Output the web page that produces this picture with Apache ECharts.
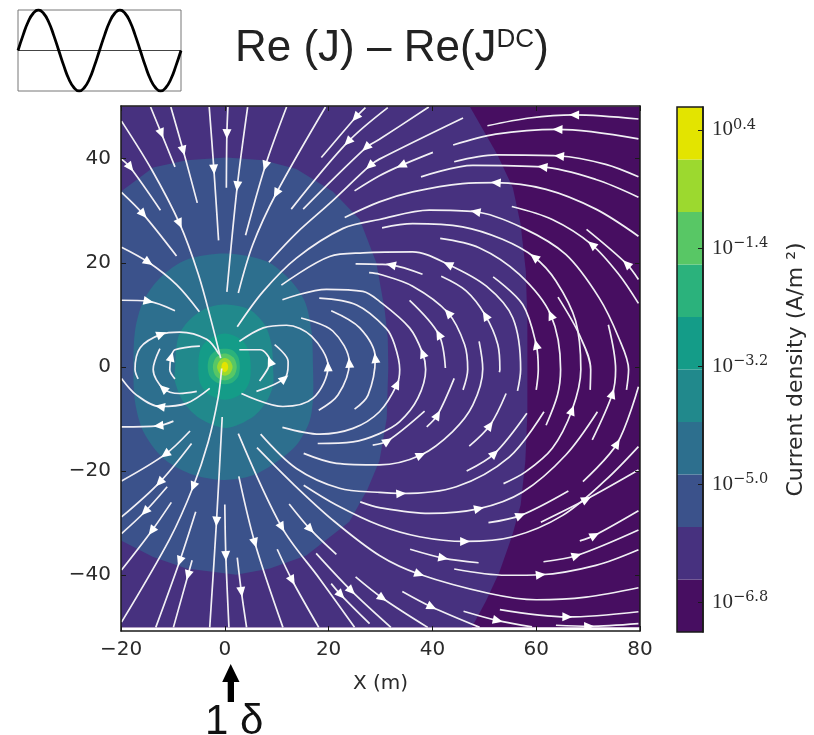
<!DOCTYPE html>
<html><head><meta charset="utf-8">
<style>html,body{margin:0;padding:0;background:#fff}#c{width:814px;height:735px}</style>
<script src="https://cdn.jsdelivr.net/npm/echarts@6/dist/echarts.min.js"></script>
</head><body><div id="c"></div>
<script>
// Colour bands (log10 current density edges, colours)
const bandEdges=[-7.25,-6.45,-5.65,-4.85,-4.05,-3.25,-2.45,-1.65,-0.85,-0.05,0.75];
const bandColors=['#470e61','#47317f','#3b528b','#2d6f8e','#21898c','#149c88','#2bb27c','#58c765','#9cd92f','#e3e400'];
const cbarTicks=[-6.8,-5.0,-3.2,-1.4,0.4];
const xTicks=[-20,0,20,40,60,80];
const yTicks=[-40,-20,0,20,40];

// Contour outlines, one for each band (x m, y m)
const level0=[[-20,-50],[80,-50],[80,50],[-20,50]];
const level1=[[-20,-50],[47.6,-50],[50.3,-45],[52.9,-39.4],[55.4,-32.3],[57,-26.5],[57.9,-18.2],[58.3,-9],[58.3,0],[58.3,8.8],[58,18.4],[57,27.4],[55.5,34.4],[52.5,40.8],[47.2,50],[-20,50]];
const level2=[[-20,33.7],[-13.8,38.3],[-7.4,39.7],[0.3,40.2],[7.4,39.7],[13.8,38],[20.8,33.7],[26,28.3],[29.2,20],[30.8,11],[31.4,5.6],[31.5,0],[31.2,-9.9],[29.8,-18],[27.5,-23.5],[24,-29.7],[15.7,-36.2],[8.7,-38.7],[2.2,-39.9],[-7.4,-38.7],[-13.8,-36.5],[-20,-33.3]];
const level3=[[-17.6,-0.5],[-17.3,6.9],[-15.7,12.6],[-12.5,17.1],[-7.4,20.6],[0.3,21.8],[8,20.3],[12.5,16.8],[15.4,12.6],[16.7,6.9],[17,-0.2],[17,-6],[16.3,-10.5],[13.8,-15],[10,-18.2],[5.4,-20.8],[-0.3,-21.7],[-6.7,-20.5],[-11.8,-17.6],[-15.7,-12.4],[-17.3,-6.7]];
const level4=[[-9.6,-0.5],[-9,5.6],[-7,8.8],[-3.5,11.3],[0.3,12],[4.8,11],[7.7,8.1],[9,4.3],[9.3,-0.2],[9.3,-3.5],[8,-6.7],[5.4,-9.6],[0.3,-11.7],[-4.8,-9.9],[-8,-6.7],[-9.6,-2.8]];
const level5=[[-5.1,0],[-4.8,3],[-3.5,5],[0,6.4],[3.2,5.2],[4.6,3],[5,0],[4.7,-3],[3.2,-5.2],[0,-6.3],[-3.2,-5.2],[-4.8,-3]];
const level6=[[-3.3,0],[-2.9,2],[-1.6,3.2],[0,3.5],[1.5,3.2],[2.6,1.9],[2.9,0],[2.6,-1.8],[1.5,-3],[0,-3.3],[-1.6,-3],[-2.9,-1.8]];
const level7=[[-2.3,0],[-1.7,1.8],[0,2.6],[1.7,1.8],[2.3,0],[1.7,-1.8],[0,-2.6],[-1.7,-1.8]];
const level8=[[-1.5,0],[-1,1.2],[0,1.7],[1,1.2],[1.5,0],[1,-1.2],[0,-1.7],[-1,-1.2]];
const level9=[[-0.65,0],[-0.45,0.7],[0,1],[0.45,0.7],[0.65,0],[0.45,-0.7],[0,-1],[-0.45,-0.7]];
const contours=[level0,level1,level2,level3,level4,level5,level6,level7,level8,level9];

// Streamlines: p = points (x m, y m), a = indices carrying an arrow, f = flow along (1) or against (-1) point order
const streamsTopLeft=[
{p:[[-14.3,49.9],[-12.2,44.8],[-9.6,38.4]],a:[1],f:1},
{p:[[-10.4,49.9],[-8,41.5],[-5.3,31.5]],a:[1],f:1},
{p:[[-19.9,47.2],[-14.1,37.9],[-8.7,27.5],[-5.1,17.8],[-2.6,8.8],[-0.8,1.7]],a:[2],f:1},
{p:[[-19.9,39.9],[-18.2,38.3],[-12.4,30.1]],a:[1],f:1},
{p:[[-19.9,33.5],[-15.7,29.3],[-9.3,21.3]],a:[1],f:1},
{p:[[-19.9,23],[-14.7,20.1],[-9.3,15.8],[-4.9,10.6]],a:[1],f:1},
{p:[[-19.9,12.8],[-14.7,12.6],[-9.6,10.8]],a:[1],f:1},
{p:[[-3,49.9],[-2.1,37.9],[-1.2,24.3]],a:[1],f:1},
{p:[[0.6,49.9],[0.4,44.7],[0.3,34.4]],a:[1],f:1},
{p:[[4.4,49.9],[2.4,34.7],[0.4,14.4]],a:[1],f:1},
{p:[[11.9,49.9],[7.8,38.6],[4,25.3]],a:[1],f:1},
{p:[[19.4,49.9],[9.9,33.3],[5.4,23.5],[2.6,14.2]],a:[1],f:1},
{p:[[27.1,49.8],[25.2,47.9],[18.6,40.2]],a:[1],f:1},
{p:[[31.4,49.8],[23.7,43.2],[12.8,30.3]],a:[1],f:1},
{p:[[39.3,49.9],[29.8,43.7],[27.2,42.1],[15.1,30.3]],a:[2],f:1},
{p:[[45.9,47.8],[29.8,39.9],[27.9,38.6],[20.2,31.4],[13.8,25.7],[8.5,20.1]],a:[2],f:1},
{p:[[40.1,41.2],[34,38.7],[29.8,36.7],[25,33.8]],a:[1],f:1}
];
const streamsTopRight=[
{p:[[23.1,28.7],[29.8,31.7],[36.2,33.6],[45.8,35.2],[52.2,35.4],[61.9,34.1],[71.5,30.3],[79.7,25.1]],a:[4],f:-1},
{p:[[2.4,7.7],[7.4,14.5],[13.8,20.9],[22.8,26.6],[29.8,28.3],[39.4,30.1],[48.3,29.8],[57.4,26.7],[65.7,21.6],[72.1,13.3],[75.9,5.6],[77.8,-0.5],[77.4,-4.4]],a:[6],f:-1},
{p:[[30.3,26.7],[36.2,27.5],[45.8,26.9],[53.5,24.5],[59.6,21.1],[63.8,16.5],[67.6,8.8],[68.6,-0.5],[66.9,-8.3],[63.1,-15.6],[58,-20.1],[53.7,-22.4]],a:[4,8],f:-1},
{p:[[10.9,15.7],[20.2,21.2],[26.7,21.9],[36.2,22.1],[43,19.7],[50.4,15.5],[55.5,9.4],[57,-0.5],[56.4,-4.6]],a:[4],f:-1},
{p:[[25.2,19.8],[29.8,19.7],[32,19.6],[38.1,17.8]],a:[2],f:-1},
{p:[[27.8,18.1],[29.8,17.8],[36.2,15.5],[43,10.4],[46.2,4.3],[46.8,-0.5],[45.9,-4.4]],a:[3],f:-1},
{p:[[41.7,17.4],[46.5,14.6],[50.2,9.9],[52.6,4.3],[53,-0.5],[52.9,-1]],a:[2],f:-1},
{p:[[51.7,17.3],[57.4,12],[60,4.3],[60.4,-0.5],[60,-4.4]],a:[2],f:-1},
{p:[[41.5,24.7],[49,22.9],[56.7,17.8],[62.8,10],[64.7,-0.5],[64.1,-5.4],[61.9,-11.2]],a:[3],f:-1},
{p:[[50.6,46.3],[58.7,47.8],[67.3,48.4],[79.7,47.6]],a:[2],f:-1},
{p:[[44,42.6],[52.2,44.7],[64.1,45.6],[79.7,43.8]],a:[2],f:-1},
{p:[[44.2,39.4],[52.2,40.7],[64.4,40.5],[73.4,38.9],[79.7,36.5]],a:[2],f:-1},
{p:[[37.8,36.5],[47.8,38.7],[61.2,38.4],[71.5,36],[79.7,32.6]],a:[2],f:-1},
{p:[[55.3,30.8],[63.1,28.3],[70.7,23.5],[75.9,17.8],[79.7,12.2]],a:[2],f:-1},
{p:[[69.7,26.4],[77.4,19.8],[79.7,16.8]],a:[1],f:-1},
{p:[[64.2,13.4],[68.3,6.2],[70.5,-0.5],[70.4,-4.4]],a:[],f:-1},
{p:[[73.9,8.1],[75.3,-0.5],[74.7,-5.1],[70.8,-14]],a:[2],f:-1},
{p:[[11.1,12.9],[19.6,14.9],[26.6,14.5],[29.8,12.6],[35.6,7.5],[38.1,2.7],[38.7,-0.5],[37.2,-6],[33.7,-10.5],[29.8,-12.8],[24.7,-14.4],[17.9,-14.7]],a:[5],f:-1},
{p:[[18.2,13.2],[25.4,11.9],[31.1,7.4],[32.7,4.3],[33.7,-0.5],[33.2,-3.3],[29.8,-8.6],[24.7,-11.8],[18.3,-12.9],[11.1,-11.6]],a:[5],f:-1},
{p:[[35.6,12.8],[41.2,6.3],[42.5,-0.2]],a:[1],f:-1}
];
const streamsCore=[
{p:[[2.8,4.9],[7.4,7.5],[11.9,8],[16.7,5.9],[19.9,0.1],[17,-6],[11.2,-7.6],[3.2,-5.1]],a:[4],f:-1},
{p:[[14.7,9.4],[20.8,6.9],[24,0.8],[21.8,-5.4],[18.1,-8.3]],a:[2],f:-1},
{p:[[20.5,10.8],[26,7.5],[29,1.7],[27.6,-5.4],[25,-8.1]],a:[2],f:-1},
{p:[[2.8,3.3],[6.8,3.3],[8.7,1.1],[8.3,-0.3],[6.7,-2.7]],a:[2],f:-1},
{p:[[9.6,4.3],[12.2,1.1],[12.2,0.4],[11.5,-2.2],[6.1,-4.7]],a:[3],f:-1},
{p:[[-4.8,4],[-9.6,3.3],[-10.3,2],[-10.6,-0.5],[-9.6,-2.3]],a:[2],f:-1},
{p:[[-1.1,2.4],[-3.5,5.3],[-8.7,6.7],[-12.2,6.3],[-16.3,3.7],[-17.3,-0.5],[-16.7,-2.3]],a:[3],f:-1},
{p:[[-12.5,3.5],[-13.8,-0.5],[-11.9,-4.1],[-8.7,-5.1],[-5.4,-4.7]],a:[2],f:-1},
{p:[[-19.9,-2.2],[-17,-5.4],[-12.5,-7.6],[-7.4,-7],[-2.9,-4.1]],a:[2],f:-1}
];
const streamsBottomLeft=[
{p:[[-0.6,-0.3],[-1.3,-6],[-3.2,-14.4],[-6.1,-23],[-10.6,-33],[-19.9,-49]],a:[3],f:1},
{p:[[-19.9,-11.5],[-12.8,-11.3],[-9.9,-10.4]],a:[1],f:-1},
{p:[[-19.9,-21.9],[-11.5,-16.8],[-6.7,-12.3]],a:[1],f:-1},
{p:[[-19.9,-28.8],[-12.6,-22.2],[-6.4,-14.7]],a:[1],f:-1},
{p:[[-19.9,-32],[-15.4,-27.8],[-11.1,-23]],a:[1],f:-1},
{p:[[-19.9,-39],[-14.1,-31.5],[-10.3,-26]],a:[1],f:-1},
{p:[[-13.3,-50],[-8.7,-37.3],[-5.6,-27.8]],a:[1],f:-1},
{p:[[-9.9,-50],[-7.1,-40],[-6.3,-37.1]],a:[1],f:-1},
{p:[[-2.9,-50],[-1.6,-29.7],[-0.5,-9.6]],a:[1],f:-1},
{p:[[0.8,-50],[0.2,-36.3],[0,-26.4]],a:[1],f:-1},
{p:[[4.2,-50],[3.2,-43.2],[2.4,-36.6]],a:[1],f:-1},
{p:[[11.2,-50],[5.8,-33.8],[2.7,-21]],a:[1],f:-1},
{p:[[18.1,-50],[13,-41],[10.1,-35]],a:[1],f:-1},
{p:[[25,-50],[18.3,-40.7],[11,-30.8],[2.6,-12.8]],a:[2],f:-1},
{p:[[27.9,-49.3],[22.4,-43.8],[20.5,-41.6]],a:[1],f:-1},
{p:[[32,-50],[24.4,-43],[17.6,-35.8]],a:[1],f:-1},
{p:[[21.5,-36],[16.5,-31.2],[12.4,-26.3]],a:[1],f:-1}
];
const streamsBottomRight=[
{p:[[6.2,-15.5],[13.1,-22.4],[20.8,-29.4],[29.8,-36.2],[37.5,-39.8],[51,-43.5],[60,-44.7],[69.6,-44.2],[79.7,-42.4]],a:[4],f:1},
{p:[[6.9,-12.9],[13.8,-19.5],[22.1,-23.3],[29.8,-24.1],[34,-24.3],[44.6,-23],[54.8,-17.3],[61.5,-8.6]],a:[4],f:1},
{p:[[46.6,-20],[52,-16.6],[58.2,-8.9]],a:[1],f:1},
{p:[[15.2,-16.6],[21.5,-18.5],[29.8,-18.8],[37.8,-16.9],[43.9,-12.4],[47.8,-7.3],[49.7,-0.4],[49,4.9]],a:[3],f:1},
{p:[[26.1,-25.9],[29.8,-27],[39.4,-28.1],[49,-27.2],[57.4,-24],[65.7,-16.9],[71.8,-8.6]],a:[3],f:1},
{p:[[15.2,-22.7],[21.5,-26.5],[29.8,-30.4],[37.5,-32.6],[46.3,-33.5],[55.5,-32.6],[65.1,-28.5],[73.4,-21.7],[79.7,-15.3]],a:[4],f:1},
{p:[[25.2,-40.3],[30.4,-44.4],[39.1,-50]],a:[1],f:1},
{p:[[34.2,-43.1],[39.9,-46.1],[49.1,-50]],a:[1],f:1},
{p:[[46,-46.9],[52.6,-48.7],[59.2,-49.9]],a:[1],f:1},
{p:[[53,-46.6],[66,-48],[79.7,-47]],a:[1],f:1},
{p:[[63.8,-49.6],[70.2,-49.8],[79.7,-49.3]],a:[1],f:1},
{p:[[44.2,-38.8],[54.2,-40],[60.9,-39.9],[71.5,-38.1],[79.7,-35.1]],a:[2],f:1},
{p:[[35.7,-35],[42.1,-36.7],[48.9,-37.6]],a:[1],f:1},
{p:[[61.4,-37.4],[67.8,-36.2],[79.7,-31.3]],a:[1],f:1},
{p:[[68.4,-33.4],[71.3,-32.3],[79.7,-27.6]],a:[1],f:1},
{p:[[60.9,-29.8],[69.7,-25.4],[79.7,-19.8]],a:[1],f:1},
{p:[[50.8,-29.9],[57,-28.5],[66.2,-23.8]],a:[1],f:1},
{p:[[69,-22],[75.6,-14.7],[79.7,-3.8]],a:[1],f:1},
{p:[[44.2,-2.2],[41,-9.2],[38.9,-11.5]],a:[1],f:-1},
{p:[[38.5,-8.5],[31.4,-14.2],[28.5,-15]],a:[1],f:-1},
{p:[[47.1,-15.2],[51.1,-11.2],[54.2,-5.1]],a:[1],f:1}
];
const streamlines=[...streamsTopLeft,...streamsTopRight,...streamsCore,...streamsBottomLeft,...streamsBottomRight];

// Inset waveform: normalised signal, one sample per 1/16 cycle
const sineSamples=[0,0.38,0.71,0.92,1,0.92,0.71,0.38,0,-0.38,-0.71,-0.92,-1,-0.92,-0.71,-0.38,0,0.38,0.71,0.92,1,0.92,0.71,0.38,0,-0.38,-0.71,-0.92,-1,-0.92,-0.71,-0.38,0];
const sineCycles=sineSamples.map((v,i)=>[i/16,v]);

const TICK='#1a1a1a', TEXT='#2a2a2a', SANS='"DejaVu Sans",sans-serif';
const polyRender=(params,api)=>{
  const i=api.value(0);
  return {type:'polygon',shape:{points:contours[i].map(p=>api.coord(p)),smooth:i>=3?0.3:0},style:{fill:bandColors[i]}};
};
const arrowData=[];
streamlines.forEach(s=>s.a.forEach(k=>{
  const a=s.p[Math.max(k-1,0)],b=s.p[Math.min(k+1,s.p.length-1)];
  const dx=(b[0]-a[0])*s.f,dy=(b[1]-a[1])*s.f;
  arrowData.push({value:s.p[k],symbolRotate:Math.atan2(-dx,dy)*180/Math.PI});
}));
const lineSeries=streamlines.map(s=>({type:'line',xAxisIndex:0,yAxisIndex:0,data:s.p,smooth:0.33,symbol:'none',silent:true,z:3,
  lineStyle:{color:'#f1eff4',width:1.7}}));
const xBase={min:-20,max:80,splitLine:{show:false},axisLine:{onZero:false,lineStyle:{color:TICK,width:1.5}},z:6,
  axisTick:{inside:true,length:5,customValues:xTicks,lineStyle:{color:TICK}}};
const yBase={min:-50.7,max:50.1,splitLine:{show:false},axisLine:{onZero:false,lineStyle:{color:TICK,width:1.5}},z:6,
  axisTick:{inside:true,length:5,customValues:yTicks,lineStyle:{color:TICK}}};
const fmt=v=>String(v).replace('-','\u2212');

const chart=echarts.init(document.getElementById('c'),null,{renderer:'canvas'});
chart.setOption({
  animation:false,
  backgroundColor:'#fff',
  title:{text:'{a|Re (J) \u2013 Re(J}{b|DC}{a|)}',left:230,top:22,textStyle:{fontWeight:'normal',rich:{
    a:{fontFamily:'"Liberation Sans"',fontWeight:'normal',fontSize:44,color:'#222'},
    b:{fontFamily:'"Liberation Sans"',fontWeight:'normal',fontSize:26,color:'#222',verticalAlign:'top',padding:[0,0,14,0]}}}},
  grid:[
    {left:121,top:106,width:519,height:525},
    {left:677,top:107,width:26,height:525},
    {left:18,top:10,width:163,height:81,show:true,borderColor:'#777',borderWidth:1}
  ],
  xAxis:[
    Object.assign({},xBase,{type:'value',gridIndex:0,position:'bottom',name:'X (m)',nameLocation:'middle',nameGap:43,
      nameTextStyle:{fontFamily:SANS,fontSize:20,color:TEXT},
      axisLabel:{customValues:xTicks,formatter:fmt,fontFamily:SANS,fontSize:20,color:TEXT,margin:9}}),
    Object.assign({},xBase,{type:'value',gridIndex:0,position:'top',axisLabel:{show:false}}),
    {type:'value',gridIndex:1,min:0,max:1,show:false},
    {type:'value',gridIndex:2,min:0,max:2,show:false}
  ],
  yAxis:[
    Object.assign({},yBase,{type:'value',gridIndex:0,position:'left',
      axisLabel:{customValues:yTicks,formatter:fmt,fontFamily:SANS,fontSize:20,color:TEXT,margin:10}}),
    Object.assign({},yBase,{type:'value',gridIndex:0,position:'right',axisLabel:{show:false}}),
    {type:'value',gridIndex:1,position:'right',min:-7.25,max:0.75,splitLine:{show:false},z:6,
      name:'Current density (A/m \u00b2)',nameLocation:'middle',nameRotate:90,nameGap:82,
      nameTextStyle:{fontFamily:SANS,fontSize:22,color:TEXT},
      axisLine:{onZero:false,lineStyle:{color:TICK,width:1.5}},
      axisTick:{inside:true,length:5,customValues:cbarTicks,lineStyle:{color:TICK}},
      axisLabel:{customValues:cbarTicks,margin:9,
        formatter:v=>'{b|10}{s|'+fmt(v.toFixed(1))+'}',
        rich:{b:{fontFamily:'"Liberation Serif"',fontSize:21,color:TEXT},
              s:{fontFamily:'"DejaVu Serif"',fontSize:14.5,color:TEXT,verticalAlign:'top',padding:[0,0,10,0]}}}},
    {type:'value',gridIndex:2,min:-1,max:1,show:false}
  ],
  graphic:[
    {type:'polygon',shape:{points:[[230.7,664],[239.5,682],[234,682],[234,702],[227.7,702],[227.7,682],[222.2,682]]},style:{fill:'#000'}},
    {type:'text',x:205,y:701,style:{text:'1 \u03b4',fontFamily:'"Liberation Sans"',fontSize:42,fill:'#111'}}
  ],
  series:[
    {type:'custom',xAxisIndex:0,yAxisIndex:0,z:1,silent:true,renderItem:polyRender,data:contours.map((c,i)=>[i])},
    ...lineSeries,
    {type:'scatter',xAxisIndex:0,yAxisIndex:0,z:4,silent:true,symbol:'triangle',symbolSize:[9,10],itemStyle:{color:'#fff',opacity:1},data:arrowData},
    {type:'custom',xAxisIndex:2,yAxisIndex:2,z:1,silent:true,
      renderItem:(params,api)=>{
        const i=api.value(0),a=api.coord([0,bandEdges[i]]),b=api.coord([1,bandEdges[i+1]]);
        return {type:'rect',shape:{x:a[0],y:b[1],width:b[0]-a[0],height:a[1]-b[1]},style:{fill:bandColors[i]}};
      },data:bandColors.map((c,i)=>[i])},
    {type:'custom',xAxisIndex:2,yAxisIndex:2,z:5,silent:true,
      renderItem:(params,api)=>{
        const a=api.coord([0,bandEdges[0]]),b=api.coord([1,bandEdges[10]]);
        return {type:'rect',shape:{x:a[0],y:b[1],width:b[0]-a[0],height:a[1]-b[1]},style:{fill:'none',stroke:TICK,lineWidth:1.5}};
      },data:[[0]]},
    {type:'line',xAxisIndex:3,yAxisIndex:3,data:[[0,0],[2,0]],symbol:'none',silent:true,lineStyle:{color:'#444',width:1}},
    {type:'line',xAxisIndex:3,yAxisIndex:3,data:sineCycles,smooth:true,symbol:'none',silent:true,lineStyle:{color:'#000',width:2.8}}
  ]
});
</script></body></html>
